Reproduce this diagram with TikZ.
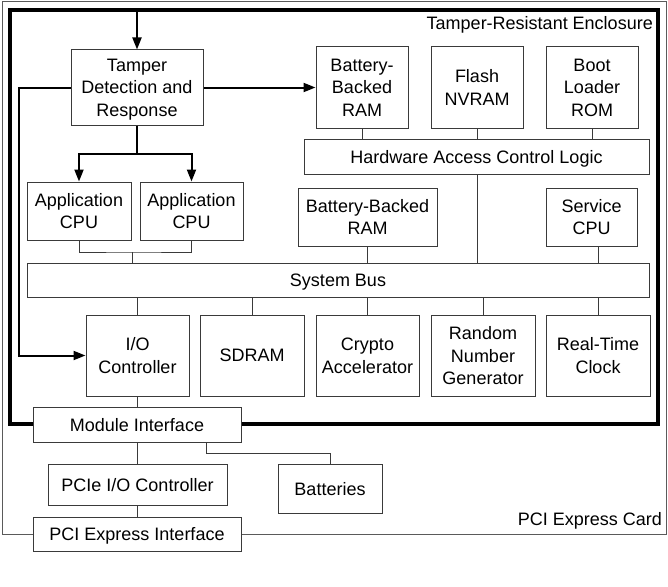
\documentclass[tikz,border=0pt]{standalone}
\usepackage{fontspec}
\setmainfont{Liberation Sans}
\usetikzlibrary{arrows.meta}
\definecolor{boxgray}{HTML}{3A3A3A}
\definecolor{cardgray}{HTML}{5A5A5A}
\newcommand\mybox[6]{\node[box,minimum width={#4-#2},minimum height={#5-#3}] (#1) at ({(#2+#4)/2},{(#3+#5)/2}) {#6};}
\begin{document}
\begin{tikzpicture}[x=1pt,y=-1pt,
  box/.style={draw=boxgray,line width=1pt,fill=white,inner sep=0pt,align=center,text depth=0pt,font=\fontsize{18}{22.5}\selectfont},
  lbl/.style={inner sep=0pt,font=\fontsize{18}{22}\selectfont},
  conn/.style={draw=boxgray,line width=1pt},
  arr/.style={draw=black,line width=2pt,-{Triangle[length=12pt,width=9pt]}},
  thickln/.style={draw=black,line width=2pt}]
\useasboundingbox (0,0) rectangle (668,586);
% PCI Express card outline
\draw[cardgray,line width=1pt] (2,2) rectangle (666,534);
% Tamper-resistant enclosure
\draw[black,line width=4pt] (10,10) rectangle (658,424);
\node[lbl,anchor=base east] (enclbl) at (653,30) {Tamper-Resistant Enclosure};
\node[lbl,anchor=base east] (cardlbl) at (662,525) {PCI Express Card};
% boxes
\mybox{tamper}{71}{50}{203}{125}{Tamper\\Detection and\\Response}
\mybox{bbram}{316}{47}{408}{128}{Battery-\\Backed\\RAM}
\mybox{flash}{431}{47}{523}{128}{Flash\\NVRAM}
\mybox{boot}{546}{47}{638}{128}{Boot\\Loader\\ROM}
\mybox{hacl}{304}{139}{649}{174}{Hardware Access Control Logic}
\mybox{appa}{27}{182}{131}{240}{Application\\CPU}
\mybox{appb}{140}{182}{243}{240}{Application\\CPU}
\mybox{bbramb}{298}{188}{437}{246}{Battery-Backed\\RAM}
\mybox{service}{546}{188}{637}{246}{Service\\CPU}
\mybox{bus}{27}{263}{649}{297}{System Bus}
\mybox{io}{86}{315}{189}{396}{I/O\\Controller}
\mybox{sdram}{200}{315}{304}{396}{SDRAM}
\mybox{crypto}{316}{315}{419}{396}{Crypto\\Accelerator}
\mybox{rng}{431}{315}{535}{396}{Random\\Number\\Generator}
\mybox{rtc}{546}{315}{650}{396}{Real-Time\\Clock}
\mybox{module}{33}{407}{241}{442}{Module Interface}
\mybox{pcieio}{48}{464}{227}{505}{PCIe I/O Controller}
\mybox{batt}{278}{464}{382}{513}{Batteries}
\mybox{pciint}{33}{517}{241}{551}{PCI Express Interface}
% coordinates
\coordinate (entop) at (137,10);
\coordinate (split) at (137,154);
\coordinate (lft) at (19,87.5);
\coordinate (appj) at (132,252);
\coordinate (mb) at (206,453);
% tamper arrows
\draw[arr] (entop) -- (tamper.north);
\draw[arr] (tamper.east) -- (tamper.east -| bbram.west);
\draw[thickln] (tamper.south) -- (split);
\draw[arr] (split) -| (appa.north);
\draw[arr] (split) -| (appb.north);
\draw[arr] (tamper.west) -- (lft) |- (io.west);
% thin connectors
\draw[conn] (bbram.south) -- (bbram.south |- hacl.north);
\draw[conn] (flash.south) -- (flash.south |- hacl.north);
\draw[conn] (boot.south) -- (boot.south |- hacl.north);
\draw[conn] (flash.south |- hacl.south) -- (flash.south |- bus.north);
\draw[conn] (bbramb.south) -- (bbramb.south |- bus.north);
\draw[conn] (service.south -| rtc.north) -- (rtc.north |- bus.north);
\draw[conn] (appa.south) |- (appj) -| (appb.south);
\draw[conn] (appj) -- (appj |- bus.north);
\draw[conn] (io.north |- bus.south) -- (io.north);
\draw[conn] (sdram.north |- bus.south) -- (sdram.north);
\draw[conn] (crypto.north |- bus.south) -- (crypto.north);
\draw[conn] (rng.north |- bus.south) -- (rng.north);
\draw[conn] (rtc.north |- bus.south) -- (rtc.north);
\draw[conn] (io.south) -- (io.south |- module.north);
\draw[conn] (module.south) -- (module.south |- pcieio.north);
\draw[conn] (mb |- module.south) -- (mb) -| (batt.north);
\draw[conn] (pcieio.south) -- (pcieio.south |- pciint.north);
\end{tikzpicture}
\end{document}
